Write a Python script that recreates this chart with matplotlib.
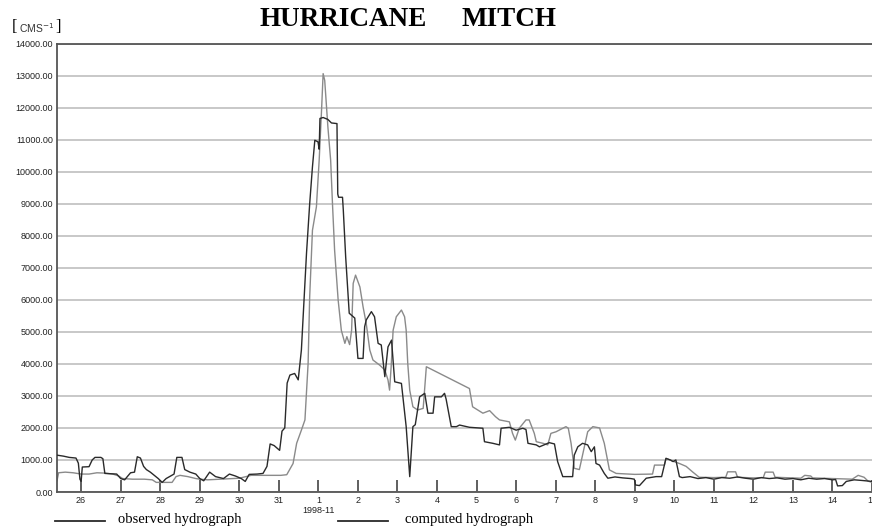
import matplotlib
matplotlib.use("Agg")
import matplotlib.pyplot as plt
from matplotlib.lines import Line2D
import numpy as np

# time axis: days since 1998-10-26 00:00
obs_t = [-0.61, -0.45, -0.30, -0.13, -0.07, -0.03, 0.00, 0.03, 0.20, 0.28, 0.35, 0.50, 0.55, 0.60,
         0.75, 0.90, 1.00, 1.10, 1.25, 1.35, 1.42, 1.50, 1.58, 1.65, 1.75, 1.85, 1.95, 2.05, 2.15,
         2.35, 2.42, 2.55, 2.62, 2.75, 2.90, 3.00, 3.10, 3.25, 3.40, 3.60, 3.75, 3.90, 4.05, 4.15,
         4.25, 4.45, 4.60, 4.70, 4.78, 4.88, 5.02, 5.08, 5.15, 5.21, 5.28, 5.40, 5.49, 5.57, 5.70,
         5.78, 5.85, 5.91, 5.99, 6.02, 6.04, 6.12, 6.24, 6.33, 6.47, 6.49, 6.51, 6.61, 6.63, 6.69,
         6.78, 6.88, 6.92, 7.00, 7.13, 7.17, 7.21, 7.34, 7.42, 7.51, 7.59, 7.68, 7.76, 7.85, 7.93,
         8.10, 8.22, 8.31, 8.39, 8.45, 8.56, 8.69, 8.77, 8.90, 8.94, 9.11, 9.19, 9.23, 9.36, 9.49,
         9.57, 9.82, 10.16, 10.20, 10.41, 10.58, 10.62, 10.83, 11.00, 11.17, 11.25, 11.30, 11.51,
         11.59, 11.84, 11.97, 12.05, 12.18, 12.43, 12.47, 12.56, 12.68, 12.81, 12.90, 12.98, 13.02,
         13.11, 13.23, 13.32, 13.50, 13.70, 13.90, 13.99, 14.02, 14.12, 14.29, 14.45, 14.54, 14.68,
         14.79, 14.90, 14.97, 15.04, 15.13, 15.20, 15.40, 15.60, 15.80, 16.00, 16.20, 16.40, 16.60,
         16.80, 17.00, 17.20, 17.40, 17.60, 17.80, 18.00, 18.20, 18.40, 18.60, 18.80, 19.00, 19.08,
         19.13, 19.25, 19.35, 19.55, 19.75, 20.00]
obs_q = [1150, 1120, 1080, 1060, 900, 400, 330, 780, 790, 1000, 1080, 1080, 1040, 580,
         570, 560, 420, 380, 600, 620, 1100, 1060, 800, 700, 620, 520, 420, 300, 420,
         560, 1080, 1080, 700, 620, 560, 420, 350, 620, 480, 420, 560, 500, 420, 330,
         550, 560, 580, 800, 1500, 1450, 1300, 1900, 2000, 3400, 3650, 3700, 3500, 4430, 7460,
         9000, 10150, 10980, 10930, 10700, 11660, 11690, 11630, 11520, 11500, 9300, 9200, 9200, 8800, 7340,
         5580, 5470, 5430, 4170, 4170, 5160, 5370, 5630, 5470, 4640, 4590, 3600, 4530, 4740, 3440,
         3390, 2040, 480, 2040, 2100, 2970, 3080, 2460, 2460, 2970, 2970, 3080, 2900, 2040, 2040,
         2090, 2020, 1990, 1570, 1520, 1470, 1990, 2020, 1930, 1990, 1950, 1520, 1470,
         1410, 1540, 1500, 950, 480, 480, 1150, 1410, 1520, 1470, 1260, 1410, 890,
         840, 580, 430, 470, 440, 420, 400, 220, 200, 430, 460, 480, 480,
         1050, 1000, 950, 1000, 480, 450, 480, 420, 450, 400, 450, 430, 470,
         430, 400, 450, 420, 440, 400, 420, 380, 430, 400, 420, 380, 390,
         190, 200, 330, 380, 360, 330]

cmp_t = [-0.61, -0.57, -0.40, -0.20, 0.00, 0.20, 0.40, 0.60, 0.80, 0.95, 1.05, 1.30, 1.60, 1.80,
         1.90, 2.30, 2.40, 2.50, 2.70, 2.90, 3.00, 3.20, 3.50, 3.80, 4.00, 4.30, 4.60, 4.90, 5.05,
         5.20, 5.36, 5.45, 5.57, 5.66, 5.74, 5.78, 5.85, 5.95, 6.02, 6.08, 6.12, 6.16, 6.20, 6.24,
         6.31, 6.36, 6.41, 6.50, 6.58, 6.67, 6.72, 6.79, 6.84, 6.88, 6.94, 7.05, 7.13, 7.21, 7.30,
         7.38, 7.55, 7.68, 7.76, 7.80, 7.84, 7.89, 7.97, 8.10, 8.18, 8.22, 8.26, 8.31, 8.39, 8.51,
         8.65, 8.73, 9.82, 9.90, 10.16, 10.33, 10.48, 10.58, 10.83, 10.91, 10.98, 11.08, 11.25,
         11.33, 11.46, 11.51, 11.68, 11.80, 11.88, 12.01, 12.18, 12.26, 12.32, 12.39, 12.47, 12.60,
         12.81, 12.94, 13.11, 13.23, 13.36, 13.53, 14.00, 14.45, 14.50, 14.75, 14.79, 14.95, 15.13,
         15.30, 15.46, 15.63, 16.00, 16.30, 16.35, 16.55, 16.60, 17.00, 17.25, 17.30, 17.50, 17.55,
         18.00, 18.20, 18.30, 18.45, 18.50, 19.00, 19.50, 19.65, 19.80, 19.90, 20.00]
cmp_q = [350, 600, 620, 600, 560, 560, 600, 590, 560, 500, 420, 400, 400, 380,
         300, 300, 480, 520, 480, 420, 400, 380, 400, 420, 430, 520, 520, 520, 520,
         540, 890, 1520, 1930, 2250, 4010, 6100, 8170, 8900, 10360, 11920, 13060, 12850, 12130, 11400,
         10360, 8900, 7550, 5990, 5050, 4640, 4850, 4600, 5050, 6510, 6770, 6400, 5780, 5260, 4430,
         4120, 3960, 3810, 3500, 3180, 3910, 5050, 5470, 5680, 5470, 5050, 4010, 3180, 2660, 2560,
         2610, 3910, 3230, 2660, 2460, 2540, 2350, 2250, 2190, 1830, 1620, 1990, 2250,
         2250, 1830, 1570, 1520, 1470, 1830, 1880, 1990, 2040, 1990, 1520, 740, 700,
         1880, 2040, 2000, 1520, 690, 580, 550, 560, 840, 840, 1050, 970, 890,
         800, 630, 460, 450, 460, 630, 630, 460, 440, 450, 620, 620, 460,
         440, 430, 520, 500, 440, 420, 400, 520, 460, 340, 300]

day_ticks = np.arange(0, 21)
day_labels = ["26", "27", "28", "29", "30", "31", "1\n1998-11", "2", "3", "4", "5", "6", "7",
              "8", "9", "10", "11", "12", "13", "14", "15"]
y_ticks = np.arange(0, 14001, 1000)

fig = plt.figure(figsize=(8.72, 5.29), dpi=100)
ax = fig.add_axes([57 / 872, 37 / 529, 815 / 872, 448.5 / 529])

ax.plot(obs_t, obs_q, color="#2a2a2a", lw=1.0, zorder=3)
ax.plot(cmp_t, cmp_q, color="#8a8a8a", lw=1.0, zorder=2)

ax.set_xlim(-0.61, 20.0)
ax.set_ylim(0, 14000)
ax.set_yticks(y_ticks)
ax.set_yticklabels(["%.2f" % v for v in y_ticks])
ax.set_xticks(day_ticks)
ax.set_xticklabels(day_labels)
ax.yaxis.grid(True, color="#c4c4c4", lw=1.3)
ax.set_axisbelow(True)

ax.tick_params(axis="y", length=0, pad=3, labelsize=6.5, labelcolor="#222")
ax.tick_params(axis="x", direction="in", length=9, width=1.2, color="#444",
               pad=3, labelsize=6.5, labelcolor="#222")
for lab in ax.get_xticklabels() + ax.get_yticklabels():
    lab.set_fontfamily("Liberation Sans")
for lab in ax.get_xticklabels():
    lab.set_linespacing(1.15)

for s in ["left", "bottom", "top"]:
    ax.spines[s].set_color("#555")
    ax.spines[s].set_linewidth(1.3)
ax.spines["right"].set_visible(False)

# title, two words spread apart
fig.text(343 / 872, 1 - 19 / 529, "HURRICANE", ha="center", va="center",
         fontsize=19.5, fontweight="bold", family="Liberation Serif")
fig.text(509 / 872, 1 - 19 / 529, "MITCH", ha="center", va="center",
         fontsize=19.5, fontweight="bold", family="Liberation Serif")

fig.text(12 / 872, 1 - 27 / 529, "[", ha="left", va="center", fontsize=12, family="Liberation Serif")
fig.text(19 / 872, 1 - 28 / 529, r"CMS$^{-1}$", ha="left", va="center", fontsize=7.5,
         family="Liberation Sans", color="#333")
fig.text(55 / 872, 1 - 27 / 529, "]", ha="left", va="center", fontsize=12, family="Liberation Serif")

# legend under the axis
fig.add_artist(Line2D([55 / 872, 105 / 872], [1 - 521 / 529] * 2, color="#2a2a2a", lw=1.3))
fig.text(118 / 872, 1 - 520 / 529, "observed hydrograph", ha="left", va="center",
         fontsize=10.5, family="Liberation Serif")
fig.add_artist(Line2D([338 / 872, 388 / 872], [1 - 521 / 529] * 2, color="#2a2a2a", lw=1.3))
fig.text(405 / 872, 1 - 520 / 529, "computed hydrograph", ha="left", va="center",
         fontsize=10.5, family="Liberation Serif")

fig.savefig("out.png", dpi=100)
